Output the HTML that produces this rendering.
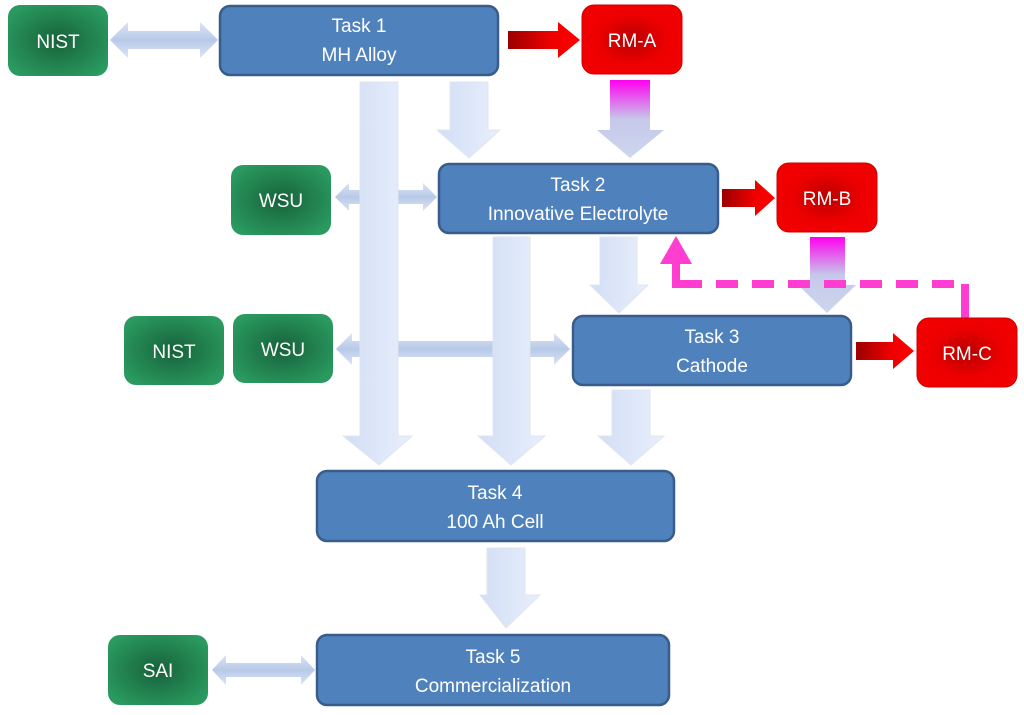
<!DOCTYPE html>
<html><head><meta charset="utf-8"><style>
html,body{margin:0;padding:0;background:#fff;width:1024px;height:715px;overflow:hidden}
svg text{font-family:"Liberation Sans",sans-serif;fill:#fff;font-size:19px;text-anchor:middle}
</style></head><body>
<svg width="1024" height="715" viewBox="0 0 1024 715" xmlns="http://www.w3.org/2000/svg">
<defs>
<radialGradient id="g" cx="50%" cy="50%" r="60%"><stop offset="0" stop-color="#17623a"/><stop offset="1" stop-color="#2a9a60"/></radialGradient>
<radialGradient id="r" cx="50%" cy="50%" r="60%"><stop offset="0" stop-color="#b80000"/><stop offset="0.6" stop-color="#ee0000"/><stop offset="1" stop-color="#f20000"/></radialGradient>
<linearGradient id="lb" x1="0" x2="1" y1="0" y2="0"><stop offset="0" stop-color="#d2def5"/><stop offset="1" stop-color="#e8effc"/></linearGradient>
<linearGradient id="hb" x1="0" x2="0" y1="0" y2="1"><stop offset="0" stop-color="#dbe4f5"/><stop offset="0.5" stop-color="#b8c9e8"/><stop offset="1" stop-color="#dbe4f5"/></linearGradient>
<linearGradient id="ra" x1="0" x2="1" y1="0" y2="0"><stop offset="0" stop-color="#9b0000"/><stop offset="0.6" stop-color="#ee0000"/><stop offset="1" stop-color="#f00"/></linearGradient>
<linearGradient id="mg" x1="0" x2="0" y1="0" y2="1"><stop offset="0" stop-color="#ff00f0"/><stop offset="0.5" stop-color="#c6c8ea"/><stop offset="1" stop-color="#ccd7ec"/></linearGradient>
</defs>

<polygon fill="url(#hb)" points="110,40 128,22 128,31 200,31 200,22 218,40 200,58 200,49 128,49 128,58"/>
<polygon fill="url(#hb)" points="335,197 349,183 349,190 423,190 423,183 437,197 423,211 423,204 349,204 349,211"/>
<polygon fill="url(#hb)" points="336,349 352,333 352,341 554,341 554,333 570,349 554,365 554,357 352,357 352,365"/>
<polygon fill="url(#hb)" points="212,670 226,655 226,663 301,663 301,655 315,670 301,685 301,677 226,677 226,685"/>

<polygon fill="url(#ra)" points="508,31 558,31 558,22 580,40 558,58 558,49 508,49"/>
<polygon fill="url(#ra)" points="722,189 755,189 755,180 775,198 755,216 755,207 722,207"/>
<polygon fill="url(#ra)" points="856,342 893,342 893,333 914,351 893,369 893,360 856,360"/>

<polygon fill="url(#lb)" stroke="#dfe5ef" stroke-width="1" points="360,82 398,82 398,436 412,436 379,465 343,436 360,436"/>
<polygon fill="url(#lb)" stroke="#dfe5ef" stroke-width="1" points="450,82 488,82 488,130 500,130 469,158 437,130 450,130"/>
<polygon fill="url(#mg)" points="610,80 650,80 650,130 664,130 630,158 597,130 610,130"/>
<polygon fill="url(#lb)" stroke="#dfe5ef" stroke-width="1" points="493,237 530,237 530,436 545,436 511,465 478,436 493,436"/>
<polygon fill="url(#lb)" stroke="#dfe5ef" stroke-width="1" points="600,237 637,237 637,285 648,285 619,313 590,285 600,285"/>
<polygon fill="url(#mg)" points="810,237 845,237 845,285 856,285 827,313 798,285 810,285"/>
<polygon fill="url(#lb)" stroke="#dfe5ef" stroke-width="1" points="612,390 650,390 650,436 664,436 631,465 598,436 612,436"/>
<polygon fill="url(#lb)" stroke="#dfe5ef" stroke-width="1" points="487,548 525,548 525,595 540,595 506,628 480,595 487,595"/>

<path d="M680,284 H965" fill="none" stroke="#ff3dd0" stroke-width="8" stroke-dasharray="22,14"/>
<path d="M965,318 V284" fill="none" stroke="#ff3dd0" stroke-width="8"/>
<rect x="672" y="258" width="8" height="30" fill="#ff3dd0"/>
<polygon fill="#ff3dd0" points="676,236 692,264 660,264"/>

<rect x="8" y="5" width="100" height="71" rx="12" fill="url(#g)"/><text x="58" y="48">NIST</text>
<rect x="231" y="165" width="100" height="70" rx="12" fill="url(#g)"/><text x="281" y="207">WSU</text>
<rect x="124" y="316" width="100" height="69" rx="12" fill="url(#g)"/><text x="174" y="358">NIST</text>
<rect x="233" y="314" width="100" height="69" rx="12" fill="url(#g)"/><text x="283" y="356">WSU</text>
<rect x="108" y="635" width="100" height="70" rx="12" fill="url(#g)"/><text x="158" y="677">SAI</text>

<rect x="582" y="5" width="100" height="69" rx="12" fill="url(#r)" stroke="#c00" stroke-width="1"/><text x="632" y="47">RM-A</text>
<rect x="777" y="163" width="100" height="69" rx="12" fill="url(#r)" stroke="#c00" stroke-width="1"/><text x="827" y="205">RM-B</text>
<rect x="917" y="318" width="100" height="69" rx="12" fill="url(#r)" stroke="#c00" stroke-width="1"/><text x="967" y="360">RM-C</text>

<g fill="#4f81bd" stroke="#385d8a" stroke-width="2.5">
<rect x="220" y="6" width="278" height="69" rx="10"/>
<rect x="439" y="164" width="279" height="69" rx="10"/>
<rect x="573" y="316" width="278" height="69" rx="10"/>
<rect x="317" y="471" width="357" height="70" rx="10"/>
<rect x="317" y="635" width="352" height="70" rx="10"/>
</g>
<text x="359" y="32">Task 1</text><text x="359" y="61">MH Alloy</text>
<text x="578" y="191">Task 2</text><text x="578" y="220">Innovative Electrolyte</text>
<text x="712" y="343">Task 3</text><text x="712" y="372">Cathode</text>
<text x="495" y="499">Task 4</text><text x="495" y="528">100 Ah Cell</text>
<text x="493" y="663">Task 5</text><text x="493" y="692">Commercialization</text>
</svg>
</body></html>
